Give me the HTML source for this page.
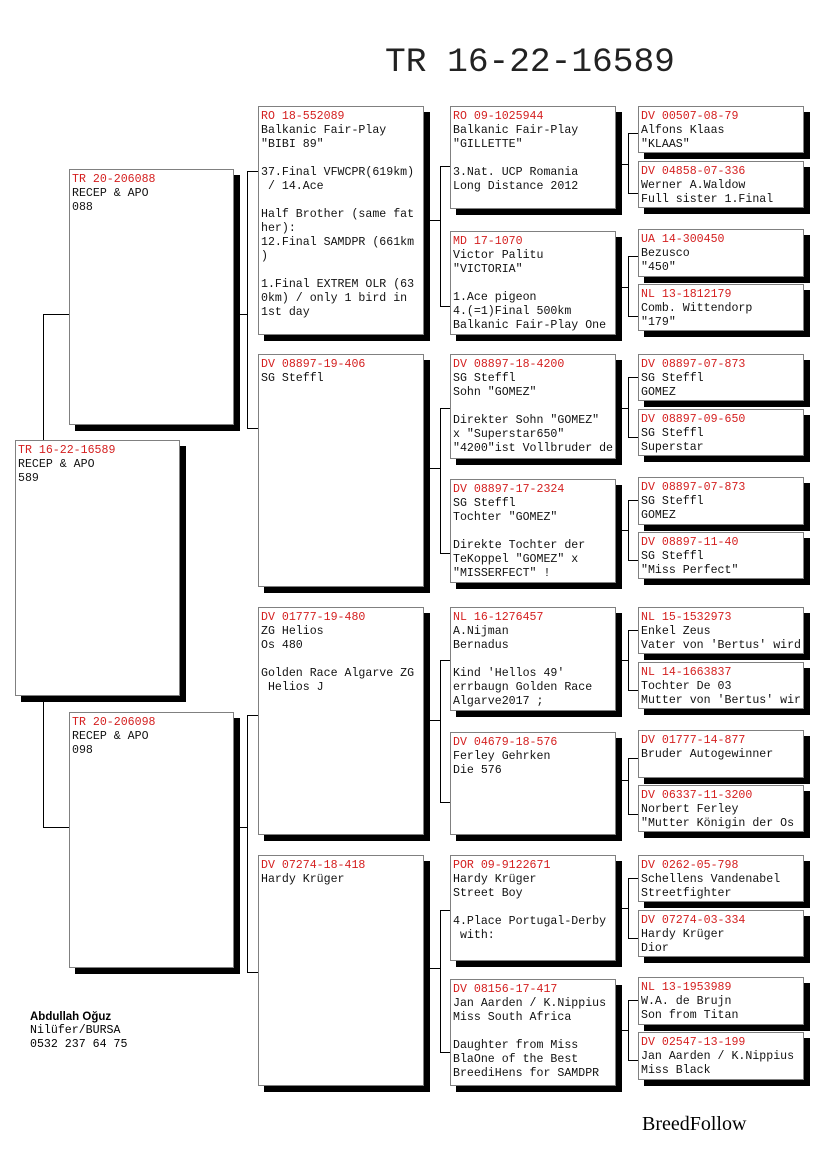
<!DOCTYPE html>
<html><head><meta charset="utf-8"><style>
body{margin:0;width:825px;height:1172px;background:#fff;position:relative;overflow:hidden;font-family:"Liberation Mono",monospace;}
.b{position:absolute;background:#fff;border:1px solid #808080;box-shadow:6px 6px 0 #000;box-sizing:border-box;padding:3px 2px 0 2px;font-size:11.6px;line-height:14px;color:#111;white-space:pre;overflow:hidden}
.r{color:#d42020}
.l{position:absolute;background:#000}
</style></head><body>
<div style="position:absolute;left:385px;top:43px;font-size:34.5px;line-height:40px;color:#222">TR 16-22-16589</div>

<div class="l" style="left:43px;top:314px;width:1px;height:514px"></div>
<div class="l" style="left:43px;top:314px;width:26px;height:1px"></div>
<div class="l" style="left:43px;top:827px;width:26px;height:1px"></div>

<div class="l" style="left:239px;top:314px;width:8px;height:1px"></div>
<div class="l" style="left:247px;top:171px;width:1px;height:257px"></div>
<div class="l" style="left:247px;top:171px;width:11px;height:1px"></div>
<div class="l" style="left:247px;top:428px;width:11px;height:1px"></div>

<div class="l" style="left:239px;top:827px;width:8px;height:1px"></div>
<div class="l" style="left:247px;top:715px;width:1px;height:257px"></div>
<div class="l" style="left:247px;top:715px;width:11px;height:1px"></div>
<div class="l" style="left:247px;top:972px;width:11px;height:1px"></div>

<div class="l" style="left:430px;top:220px;width:10px;height:1px"></div>
<div class="l" style="left:440px;top:166px;width:1px;height:140px"></div>
<div class="l" style="left:440px;top:166px;width:10px;height:1px"></div>
<div class="l" style="left:440px;top:306px;width:10px;height:1px"></div>

<div class="l" style="left:430px;top:468px;width:10px;height:1px"></div>
<div class="l" style="left:440px;top:408px;width:1px;height:145px"></div>
<div class="l" style="left:440px;top:408px;width:10px;height:1px"></div>
<div class="l" style="left:440px;top:553px;width:10px;height:1px"></div>

<div class="l" style="left:430px;top:720px;width:10px;height:1px"></div>
<div class="l" style="left:440px;top:660px;width:1px;height:142px"></div>
<div class="l" style="left:440px;top:660px;width:10px;height:1px"></div>
<div class="l" style="left:440px;top:802px;width:10px;height:1px"></div>

<div class="l" style="left:430px;top:968px;width:10px;height:1px"></div>
<div class="l" style="left:440px;top:910px;width:1px;height:142px"></div>
<div class="l" style="left:440px;top:910px;width:10px;height:1px"></div>
<div class="l" style="left:440px;top:1052px;width:10px;height:1px"></div>

<div class="l" style="left:621px;top:164px;width:7px;height:1px"></div><div class="l" style="left:628px;top:133px;width:1px;height:60px"></div><div class="l" style="left:628px;top:133px;width:10px;height:1px"></div><div class="l" style="left:628px;top:193px;width:10px;height:1px"></div>
<div class="l" style="left:621px;top:287px;width:7px;height:1px"></div><div class="l" style="left:628px;top:256px;width:1px;height:60px"></div><div class="l" style="left:628px;top:256px;width:10px;height:1px"></div><div class="l" style="left:628px;top:316px;width:10px;height:1px"></div>
<div class="l" style="left:621px;top:408px;width:7px;height:1px"></div><div class="l" style="left:628px;top:377px;width:1px;height:60px"></div><div class="l" style="left:628px;top:377px;width:10px;height:1px"></div><div class="l" style="left:628px;top:437px;width:10px;height:1px"></div>
<div class="l" style="left:621px;top:530px;width:7px;height:1px"></div><div class="l" style="left:628px;top:500px;width:1px;height:60px"></div><div class="l" style="left:628px;top:500px;width:10px;height:1px"></div><div class="l" style="left:628px;top:560px;width:10px;height:1px"></div>
<div class="l" style="left:621px;top:660px;width:7px;height:1px"></div><div class="l" style="left:628px;top:630px;width:1px;height:60px"></div><div class="l" style="left:628px;top:630px;width:10px;height:1px"></div><div class="l" style="left:628px;top:690px;width:10px;height:1px"></div>
<div class="l" style="left:621px;top:780px;width:7px;height:1px"></div><div class="l" style="left:628px;top:758px;width:1px;height:56px"></div><div class="l" style="left:628px;top:758px;width:10px;height:1px"></div><div class="l" style="left:628px;top:814px;width:10px;height:1px"></div>
<div class="l" style="left:621px;top:908px;width:7px;height:1px"></div><div class="l" style="left:628px;top:878px;width:1px;height:60px"></div><div class="l" style="left:628px;top:878px;width:10px;height:1px"></div><div class="l" style="left:628px;top:938px;width:10px;height:1px"></div>
<div class="l" style="left:621px;top:1030px;width:7px;height:1px"></div><div class="l" style="left:628px;top:1000px;width:1px;height:60px"></div><div class="l" style="left:628px;top:1000px;width:10px;height:1px"></div><div class="l" style="left:628px;top:1060px;width:10px;height:1px"></div>

<div class="b" style="left:15px;top:440px;width:165px;height:256px"><span class="r">TR 16-22-16589</span>
RECEP &amp; APO
589</div>
<div class="b" style="left:69px;top:169px;width:165px;height:256px"><span class="r">TR 20-206088</span>
RECEP &amp; APO
088</div>
<div class="b" style="left:69px;top:712px;width:165px;height:256px"><span class="r">TR 20-206098</span>
RECEP &amp; APO
098</div>
<div class="b" style="left:258px;top:106px;width:166px;height:229px"><span class="r">RO 18-552089</span>
Balkanic Fair-Play
"BIBI 89"

37.Final VFWCPR(619km)
 / 14.Ace

Half Brother (same fat
her):
12.Final SAMDPR (661km
)

1.Final EXTREM OLR (63
0km) / only 1 bird in
1st day</div>
<div class="b" style="left:258px;top:354px;width:166px;height:233px"><span class="r">DV 08897-19-406</span>
SG Steffl</div>
<div class="b" style="left:258px;top:607px;width:166px;height:228px"><span class="r">DV 01777-19-480</span>
ZG Helios
Os 480

Golden Race Algarve ZG
 Helios J</div>
<div class="b" style="left:258px;top:855px;width:166px;height:231px"><span class="r">DV 07274-18-418</span>
Hardy Krüger</div>
<div class="b" style="left:450px;top:106px;width:166px;height:103px"><span class="r">RO 09-1025944</span>
Balkanic Fair-Play
"GILLETTE"

3.Nat. UCP Romania
Long Distance 2012</div>
<div class="b" style="left:450px;top:231px;width:166px;height:104px"><span class="r">MD 17-1070</span>
Victor Palitu
"VICTORIA"

1.Ace pigeon
4.(=1)Final 500km
Balkanic Fair-Play One</div>
<div class="b" style="left:450px;top:354px;width:166px;height:105px"><span class="r">DV 08897-18-4200</span>
SG Steffl
Sohn "GOMEZ"

Direkter Sohn "GOMEZ"
x "Superstar650"
"4200"ist Vollbruder de</div>
<div class="b" style="left:450px;top:479px;width:166px;height:104px"><span class="r">DV 08897-17-2324</span>
SG Steffl
Tochter "GOMEZ"

Direkte Tochter der
TeKoppel "GOMEZ" x
"MISSERFECT" !</div>
<div class="b" style="left:450px;top:607px;width:166px;height:104px"><span class="r">NL 16-1276457</span>
A.Nijman
Bernadus

Kind 'Hellos 49'
errbaugn Golden Race
Algarve2017 ;</div>
<div class="b" style="left:450px;top:732px;width:166px;height:103px"><span class="r">DV 04679-18-576</span>
Ferley Gehrken
Die 576</div>
<div class="b" style="left:450px;top:855px;width:166px;height:106px"><span class="r">POR 09-9122671</span>
Hardy Krüger
Street Boy

4.Place Portugal-Derby
 with:</div>
<div class="b" style="left:450px;top:979px;width:166px;height:107px"><span class="r">DV 08156-17-417</span>
Jan Aarden / K.Nippius
Miss South Africa

Daughter from Miss
BlaOne of the Best
BreediHens for SAMDPR</div>
<div class="b" style="left:638px;top:106px;width:166px;height:47px"><span class="r">DV 00507-08-79</span>
Alfons Klaas
"KLAAS"</div>
<div class="b" style="left:638px;top:161px;width:166px;height:47px"><span class="r">DV 04858-07-336</span>
Werner A.Waldow
Full sister 1.Final</div>
<div class="b" style="left:638px;top:229px;width:166px;height:48px"><span class="r">UA 14-300450</span>
Bezusco
"450"</div>
<div class="b" style="left:638px;top:284px;width:166px;height:47px"><span class="r">NL 13-1812179</span>
Comb. Wittendorp
"179"</div>
<div class="b" style="left:638px;top:354px;width:166px;height:47px"><span class="r">DV 08897-07-873</span>
SG Steffl
GOMEZ</div>
<div class="b" style="left:638px;top:409px;width:166px;height:47px"><span class="r">DV 08897-09-650</span>
SG Steffl
Superstar</div>
<div class="b" style="left:638px;top:477px;width:166px;height:48px"><span class="r">DV 08897-07-873</span>
SG Steffl
GOMEZ</div>
<div class="b" style="left:638px;top:532px;width:166px;height:47px"><span class="r">DV 08897-11-40</span>
SG Steffl
"Miss Perfect"</div>
<div class="b" style="left:638px;top:607px;width:166px;height:47px"><span class="r">NL 15-1532973</span>
Enkel Zeus
Vater von 'Bertus' wird</div>
<div class="b" style="left:638px;top:662px;width:166px;height:47px"><span class="r">NL 14-1663837</span>
Tochter De 03
Mutter von 'Bertus' wir</div>
<div class="b" style="left:638px;top:730px;width:166px;height:48px"><span class="r">DV 01777-14-877</span>
Bruder Autogewinner</div>
<div class="b" style="left:638px;top:785px;width:166px;height:47px"><span class="r">DV 06337-11-3200</span>
Norbert Ferley
"Mutter Königin der Os</div>
<div class="b" style="left:638px;top:855px;width:166px;height:47px"><span class="r">DV 0262-05-798</span>
Schellens Vandenabel
Streetfighter</div>
<div class="b" style="left:638px;top:910px;width:166px;height:47px"><span class="r">DV 07274-03-334</span>
Hardy Krüger
Dior</div>
<div class="b" style="left:638px;top:977px;width:166px;height:48px"><span class="r">NL 13-1953989</span>
W.A. de Brujn
Son from Titan</div>
<div class="b" style="left:638px;top:1032px;width:166px;height:48px"><span class="r">DV 02547-13-199</span>
Jan Aarden / K.Nippius
Miss Black</div>

<div style="position:absolute;left:30px;top:1010px;font-family:'Liberation Sans',sans-serif;font-weight:bold;font-size:11.5px;line-height:14px">Abdullah Oğuz</div>
<div style="position:absolute;left:30px;top:1024px;font-size:11.6px;line-height:14px;white-space:pre">Nilüfer/BURSA
0532 237 64 75</div>
<div style="position:absolute;left:642px;top:1113px;font-family:'Liberation Serif',serif;font-size:20px;line-height:22px">BreedFollow</div>
</body></html>
